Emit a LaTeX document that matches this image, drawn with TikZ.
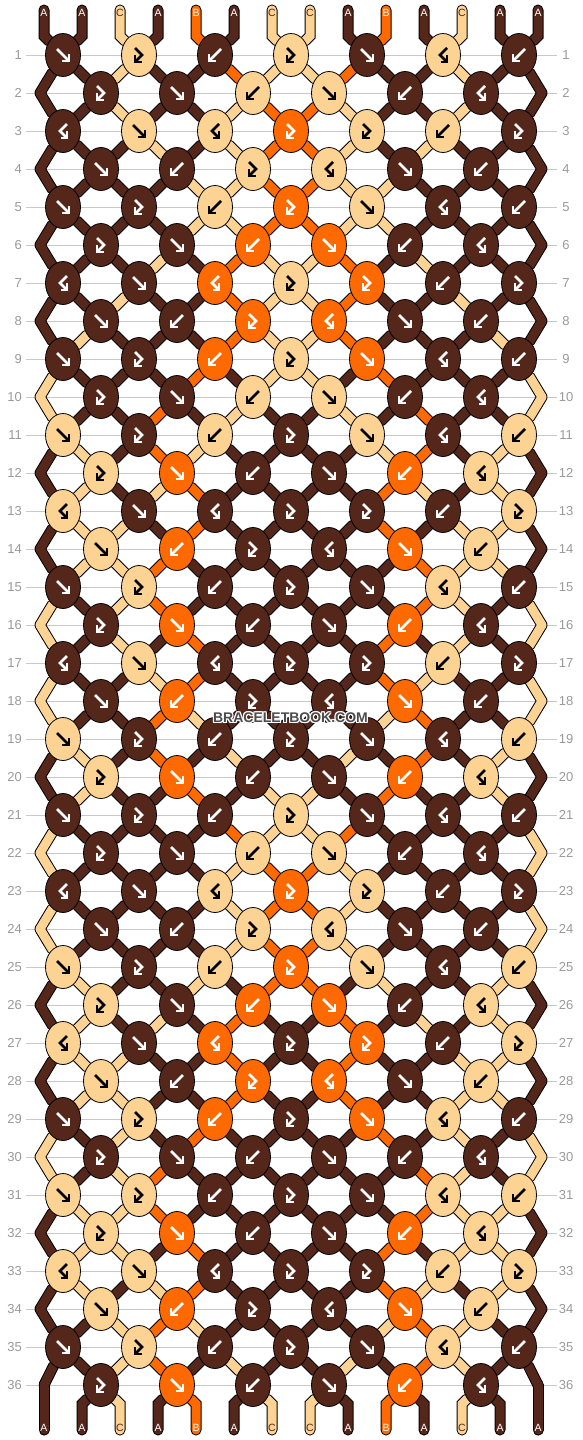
\documentclass[tikz,border=0pt]{standalone}
\usepackage{fontspec}
\setmainfont{Liberation Sans}
\usetikzlibrary{shapes.geometric}

\definecolor{colA}{HTML}{55261A}
\definecolor{colB}{HTML}{FF6A00}
\definecolor{colC}{HTML}{FDD394}
\definecolor{rowline}{HTML}{C8C8C8}
\definecolor{rownum}{HTML}{999999}

\pgfdeclarelayer{threads}
\pgfsetlayers{threads,main}

% knot types: f forward, b backward, F forward-backward, B backward-forward
\def\patO{f,F,b,F,f,B,b}
\def\patI{F,f,b,f,b,B}
\def\patII{B,f,B,F,F,b,F}
\def\patIII{f,b,F,B,f,b}
\def\startcols{A,A,C,A,B,A,C,C,A,B,A,C,A,A}

\tikzset{
  knot/.style={ellipse, draw=black, line width=0.8pt, minimum width=35pt, minimum height=43pt, inner sep=0pt},
  glyph/.style={line width=2.6pt, line join=miter},
  pics/fwd/.style={code={
    \draw[glyph] (-6,-6) -- (5,5);
    \draw[glyph] (-1,6) -- (6,6) -- (6,-1);}},
  pics/bwd/.style={code={
    \draw[glyph] (6,-6) -- (-5,5);
    \draw[glyph] (1,6) -- (-6,6) -- (-6,-1);}},
  pics/fwdbwd/.style={code={
    \draw[glyph] (-4,-7) -- (3,0) -- (-3.5,6.5);
    \draw[glyph] (-4,0) -- (-4,7) -- (2.5,7);}},
  pics/bwdfwd/.style={code={
    \draw[glyph] (4,-7) -- (-3,0) -- (3.5,6.5);
    \draw[glyph] (4,0) -- (4,7) -- (-2.5,7);}},
  num/.style={font=\fontsize{13}{15}\selectfont, text=rownum, inner sep=0pt},
  letter/.style={font=\fontsize{10.5}{12}\selectfont, inner sep=0pt},
  wmark/.style={font=\bfseries\fontsize{14}{16}\selectfont, inner sep=0pt}
}

% straight knots swap the two threads
\newcommand\swapthreads{%
  \expandafter\xdef\csname s\rw-\pl\endcsname{\inR}%
  \expandafter\xdef\csname s\rw-\pr\endcsname{\inL}}

% #1 width, #2 colour; every thread piece from one row to the next
\newcommand\drawthreads[2]{%
  \foreach \rw in {0,...,36}{
    \pgfmathtruncatemacro\rn{\rw+1}
    \foreach \pos in {1,...,14}{
      \edef\tc{\csname s\rw-\pos\endcsname}
      \pgfmathtruncatemacro\ka{floor((\pos+mod(\rw,2))/2)}
      \pgfmathtruncatemacro\kb{floor((\pos+mod(\rn,2))/2)}
      \ifnum\rw=0
        \draw[line width=#1, line cap=round, #2] (t\pos) -- (u\pos) -- (k1-\kb);
      \else\ifnum\rw=36
        \draw[line width=#1, line cap=round, #2] (k36-\ka) -- (v\pos) -- (w\pos);
      \else
        \draw[line width=#1, line cap=round, #2] (k\rw-\ka) -- (k\rn-\kb);
      \fi\fi
    }
  }}

\begin{document}
\begin{tikzpicture}[x=1pt, y=-1pt]
\useasboundingbox (0,0) rectangle (582,1440);

% thread ends
\foreach \lt [count=\pos] in \startcols {
  \pgfmathsetmacro\x{44+38*(\pos-1)}
  \coordinate (t\pos) at (\x,10);
  \coordinate (u\pos) at (\x,36);
  \coordinate (v\pos) at (\x,1404);
  \coordinate (w\pos) at (\x,1430);
  \expandafter\xdef\csname s0-\pos\endcsname{\lt}
}

% knots
\foreach \rw in {1,...,36}{
  \pgfmathtruncatemacro\rp{\rw-1}
  \pgfmathtruncatemacro\odd{mod(\rw,2)}
  \pgfmathtruncatemacro\pat{mod(mod(\rw-1,10),4)}
  \pgfmathsetmacro\y{55+38*(\rw-1)}
  \ifcase\pat\let\row\patO\or\let\row\patI\or\let\row\patII\or\let\row\patIII\fi
  \foreach \pos in {1,...,14}{%
    \expandafter\xdef\csname s\rw-\pos\endcsname{\csname s\rp-\pos\endcsname}}
  \ifnum\odd=0
    \ifnum\rw=36\relax
      \coordinate (k\rw-0) at (44,\y); \coordinate (k\rw-7) at (538,\y);
    \else
      \coordinate (k\rw-0) at (40,\y); \coordinate (k\rw-7) at (542,\y);
    \fi
  \fi
  \foreach \ty [count=\kn] in \row {
    \pgfmathtruncatemacro\pl{2*\kn-\odd}
    \pgfmathtruncatemacro\pr{\pl+1}
    \pgfmathsetmacro\x{25+38*\pl}
    \edef\inL{\csname s\rp-\pl\endcsname}
    \edef\inR{\csname s\rp-\pr\endcsname}
    \if\ty f\let\kc\inL\def\gl{fwd}\swapthreads\fi
    \if\ty b\let\kc\inR\def\gl{bwd}\swapthreads\fi
    \if\ty F\let\kc\inL\def\gl{fwdbwd}\fi
    \if\ty B\let\kc\inR\def\gl{bwdfwd}\fi
    \if\kc C\def\ac{black}\else\def\ac{white}\fi
    \node[knot, fill=col\kc] (k\rw-\kn) at (\x,\y) {};
    \pic[\ac] at (k\rw-\kn) {\gl};
  }
}

\begin{pgfonlayer}{threads}
  \foreach \rw in {1,...,36}{
    \pgfmathsetmacro\y{55+38*(\rw-1)}
    \draw[rowline] (26,\y) -- (557,\y);
    \node[num, anchor=east] (nl\rw) at (22,\y) {\rw};
    \node[num] (nr\rw) at (566,\y) {\rw};
  }
  \drawthreads{11pt}{draw=black}
  \drawthreads{9pt}{draw=col\tc}
\end{pgfonlayer}

% colour letters
\foreach \lt [count=\pos] in \startcols {
  \pgfmathsetmacro\x{44+38*(\pos-1)}
  \if\lt C\def\ac{colA}\else\def\ac{white}\fi
  \node[letter, text=\ac] (top\pos) at (\x,13) {\lt};
  \node[letter, text=\ac] (bot\pos) at (\x,1428) {\lt};
}

% watermark
\foreach \dx/\dy [count=\i] in {-1/-1,0/-1,1/-1,-1/0,1/0,-1/1,0/1,1/1}
  \node[wmark, text=white] (halo\i) at (290.5+\dx,718+\dy) {BRACELETBOOK.COM};
\node[wmark, text=black!70] (wm) at (290.5,718) {BRACELETBOOK.COM};
\end{tikzpicture}
\end{document}
